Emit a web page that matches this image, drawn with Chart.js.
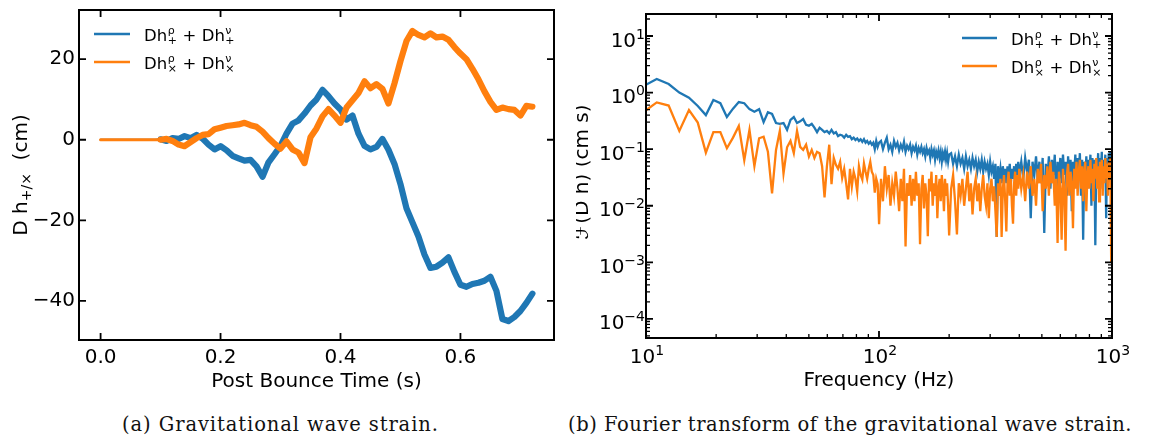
<!DOCTYPE html>
<html><head><meta charset="utf-8">
<script src="https://cdn.jsdelivr.net/npm/chart.js@4/dist/chart.umd.min.js"></script>
<style>
html,body{margin:0;padding:0;background:#fff;}
#wrap{position:relative;width:1156px;height:442px;overflow:hidden;}
canvas{position:absolute;top:0;}
#c1{left:0;width:576px;height:400px;}
#c2{left:576px;width:580px;height:400px;}
.cap{position:absolute;top:415px;font-family:'DejaVu Serif',serif;font-size:19.5px;line-height:20px;color:#111;white-space:nowrap;}
</style></head><body>
<div id="wrap">
<canvas id="c1" width="576" height="400"></canvas>
<canvas id="c2" width="580" height="400"></canvas>
<div class="cap" id="capA" data-l="122" data-w="317">(a) Gravitational wave strain.</div>
<div class="cap" id="capB" data-l="568" data-w="564">(b) Fourier transform of the gravitational wave strain.</div>
</div>
<script>
// ---------- Panel (a): time domain ----------
const timeS = [0.00,0.01,0.02,0.03,0.04,0.05,0.06,0.07,0.08,0.09,
  0.10,0.11,0.12,0.13,0.14,0.15,0.16,0.17,0.18,0.19,
  0.20,0.21,0.22,0.23,0.24,0.25,0.26,0.27,0.28,0.29,
  0.30,0.31,0.32,0.33,0.34,0.35,0.36,0.37,0.38,0.39,
  0.40,0.41,0.42,0.43,0.44,0.45,0.46,0.47,0.48,0.49,
  0.50,0.51,0.52,0.53,0.54,0.55,0.56,0.57,0.58,0.59,
  0.60,0.61,0.62,0.63,0.64,0.65,0.66,0.67,0.68,0.69,
  0.70,0.71,0.72];
const strainPlus = [0,0,0,0,0,0,0,0,0,0,
  0.1,-0.3,0.4,0.2,0.9,0.4,1.2,0.3,-1.2,-2.4,
  -1.6,-2.6,-4.0,-4.6,-5.2,-5.0,-6.6,-9.2,-5.6,-3.6,
  -1.5,1.5,4.0,4.8,6.5,8.5,10.0,12.4,10.8,9.0,
  7.5,5.0,6.0,1.5,-1.5,-2.4,-1.8,0.2,-2.5,-6.0,
  -11.0,-17.0,-20.5,-24.0,-28.5,-31.8,-31.5,-30.5,-29.2,-32.8,
  -36.0,-36.5,-35.8,-35.5,-35.0,-34.0,-37.5,-44.5,-45.0,-44.0,
  -42.5,-40.5,-38.2];
const strainCross = [0,0,0,0,0,0,0,0,0,0,
  0,0.2,-0.3,-1.2,-1.6,-0.6,0.4,1.2,1.4,2.6,
  3.0,3.4,3.6,3.8,4.2,3.6,3.2,2.0,0.4,-1.0,
  -2.2,-0.4,-2.4,-3.2,-5.8,0.6,2.8,5.8,7.6,6.0,
  4.2,8.0,9.8,11.6,14.5,12.8,13.8,12.6,9.0,14.0,
  19.5,24.5,27.0,26.0,25.4,26.4,25.4,25.6,24.8,23.0,
  21.4,20.0,17.6,15.0,12.0,9.4,7.4,8.0,7.6,7.4,
  6.0,8.4,8.2];
const quietEnd = 11;   // samples before the signal grows (t <= 0.10 s), drawn as a thin line
const leftXTicks = [0, 0.2, 0.4, 0.6];
const leftYTicks = [-40, -20, 0, 20];

// ---------- Panel (b): Fourier transform ----------
const freqHz = [9.73,11.12,12.51,13.9,15.29,16.68,18.07,19.46,20.85,22.24,
  23.63,25.02,26.41,27.8,29.19,30.58,31.97,33.36,34.75,36.14,
  37.53,38.92,40.31,41.7,43.09,44.48,45.87,47.26,48.65,50.04,
  51.43,52.82,54.21,55.6,56.99,58.38,59.77,61.16,62.55,63.94,
  65.33,66.72,68.11,69.5,70.89,72.28,73.67,75.06,76.45,77.84,
  79.23,80.62,82.01,83.4,84.79,86.18,87.57,88.96,90.35,91.74,
  93.13,94.52,95.91,97.3,98.69,100.08,
  102,104,106,108,110,112,114,116,118,120,
  122,124,126,128,130,132,134,136,138,140,
  142,144,146,148,150,152,154,156,158,160,
  162,164,166,168,170,172,174,176,178,180,
  182,184,186,188,190,192,194,196,198,200,
  204,208,212,216,220,224,228,232,236,240,
  244,248,252,256,260,264,268,272,276,280,
  284,288,292,296,300,304,308,312,316,320,
  324,328,332,336,340,344,348,352,356,360,
  364,368,372,376,380,384,388,392,396,400,
  408,416,424,432,440,448,456,464,472,480,
  488,496,504,512,520,528,536,544,552,560,
  568,576,584,592,600,608,616,624,632,640,
  648,656,664,672,680,688,696,704,712,720,
  728,736,744,752,760,768,776,784,792,800,
  808,816,824,832,840,848,856,864,872,880,
  888,896,904,912,920,928,936,944,952,960,
  968,976,984,992,1000];
const ftPlus = [1.3,1.74,1.42,1.0,0.81,0.58,0.40,0.74,0.65,0.37,
  0.52,0.68,0.65,0.51,0.46,0.51,0.30,0.45,0.42,0.29,
  0.28,0.29,0.22,0.33,0.37,0.29,0.31,0.34,0.27,0.26,
  0.28,0.24,0.20,0.24,0.22,0.20,0.21,0.19,0.22,0.19,
  0.20,0.17,0.18,0.175,0.16,0.18,0.165,0.17,0.15,0.16,
  0.145,0.155,0.14,0.15,0.135,0.15,0.13,0.14,0.125,0.135,
  0.12,0.13,0.10,0.14,0.11,0.13,
  0.14,0.10,0.13,0.16,0.10,0.12,0.09,0.14,0.11,0.13,
  0.095,0.12,0.10,0.135,0.09,0.115,0.10,0.12,0.085,0.11,
  0.095,0.115,0.08,0.105,0.09,0.11,0.085,0.10,0.075,0.105,
  0.085,0.095,0.07,0.10,0.08,0.095,0.065,0.09,0.075,0.095,
  0.07,0.09,0.06,0.085,0.07,0.09,0.065,0.085,0.06,0.08,
  0.085,0.055,0.075,0.05,0.08,0.055,0.07,0.045,0.075,0.05,
  0.065,0.045,0.07,0.05,0.065,0.04,0.06,0.045,0.065,0.04,
  0.06,0.045,0.055,0.035,0.06,0.04,0.05,0.03,0.055,0.0028,
  0.05,0.03,0.045,0.025,0.05,0.03,0.045,0.025,0.05,0.03,
  0.055,0.025,0.045,0.03,0.05,0.025,0.055,0.03,0.06,0.035,
  0.06,0.03,0.07,0.04,0.065,0.006,0.06,0.035,0.075,0.03,
  0.06,0.025,0.07,0.0033,0.055,0.03,0.075,0.02,0.065,0.035,
  0.08,0.012,0.06,0.03,0.07,0.025,0.08,0.035,0.06,0.015,
  0.075,0.03,0.065,0.008,0.06,0.035,0.08,0.025,0.07,0.04,
  0.085,0.015,0.065,0.0025,0.06,0.03,0.075,0.02,0.065,0.04,
  0.08,0.01,0.07,0.03,0.065,0.002,0.06,0.035,0.085,0.025,
  0.07,0.04,0.09,0.02,0.065,0.035,0.08,0.006,0.07,0.03,
  0.085,0.04,0.09,0.025,0.06];
const ftCross = [0.45,0.67,0.59,0.21,0.49,0.295,0.087,0.20,0.20,0.104,
  0.16,0.257,0.064,0.22,0.050,0.156,0.166,0.090,0.0166,0.097,
  0.21,0.037,0.108,0.14,0.085,0.21,0.11,0.097,0.12,0.074,
  0.097,0.07,0.09,0.085,0.05,0.014,0.05,0.12,0.024,0.07,
  0.053,0.045,0.06,0.031,0.045,0.025,0.013,0.045,0.022,0.04,
  0.03,0.018,0.05,0.035,0.029,0.056,0.04,0.03,0.045,0.06,
  0.04,0.035,0.017,0.03,0.024,0.0047,
  0.03,0.012,0.05,0.02,0.035,0.01,0.025,0.015,0.04,0.02,
  0.008,0.03,0.012,0.045,0.0019,0.025,0.015,0.035,0.01,0.03,
  0.012,0.04,0.015,0.025,0.0021,0.02,0.035,0.009,0.025,0.015,
  0.0029,0.03,0.018,0.04,0.01,0.025,0.015,0.035,0.006,0.02,
  0.03,0.012,0.035,0.02,0.008,0.03,0.015,0.025,0.01,0.003,
  0.02,0.035,0.012,0.0031,0.025,0.015,0.03,0.01,0.02,0.04,
  0.012,0.025,0.007,0.02,0.03,0.012,0.025,0.008,0.02,0.035,
  0.015,0.01,0.025,0.006,0.02,0.03,0.012,0.022,0.008,0.0028,
  0.025,0.015,0.03,0.0028,0.02,0.035,0.012,0.0035,0.025,0.04,
  0.015,0.03,0.01,0.0048,0.025,0.04,0.015,0.035,0.02,0.045,
  0.02,0.035,0.012,0.04,0.02,0.05,0.015,0.03,0.01,0.045,
  0.025,0.055,0.008,0.035,0.02,0.05,0.015,0.06,0.025,0.04,
  0.01,0.03,0.0022,0.04,0.02,0.0025,0.045,0.02,0.0016,0.035,
  0.055,0.015,0.04,0.025,0.004,0.045,0.02,0.06,0.015,0.04,
  0.065,0.02,0.05,0.012,0.04,0.06,0.008,0.035,0.05,0.02,
  0.065,0.025,0.045,0.012,0.055,0.03,0.07,0.02,0.05,0.012,
  0.06,0.03,0.065,0.015,0.05,0.025,0.07,0.03,0.055,0.015,
  0.06,0.035,0.07,0.001,0.05];
const rightXMajor = [10, 100, 1000];
const rightXExp = ['1', '2', '3'];
const rightXMinor = [20,30,40,50,60,70,80,90,200,300,400,500,600,700,800,900];
const rightYMajor = [1e-4, 1e-3, 1e-2, 1e-1, 1, 10];
const rightYExp = ['\u22124', '\u22123', '\u22122', '\u22121', '0', '1'];
const rightYMinor = [5e-5,6e-5,7e-5,8e-5,9e-5,2e-4,3e-4,4e-4,5e-4,6e-4,7e-4,8e-4,9e-4,
  2e-3,3e-3,4e-3,5e-3,6e-3,7e-3,8e-3,9e-3,0.02,0.03,0.04,0.05,0.06,0.07,0.08,0.09,
  0.2,0.3,0.4,0.5,0.6,0.7,0.8,0.9,2,3,4,5,6,7,8,9,20];

const BLUE = '#1f77b4', ORANGE = '#ff7f0e';
const FONT = '"DejaVu Sans", sans-serif';

// frame + inward ticks on four sides
function frameTicks(xMaj, xMin, yMaj, yMin) {
  return {
    id: 'frameTicks',
    afterDraw(chart) {
      const {ctx, chartArea: a} = chart;
      const xs = chart.scales.x, ys = chart.scales.y;
      ctx.save();
      ctx.strokeStyle = '#000';
      ctx.lineCap = 'butt';
      const tx = (vals, len, w) => {
        ctx.lineWidth = w; ctx.beginPath();
        for (const v of vals) {
          const p = xs.getPixelForValue(v);
          if (p < a.left - 0.5 || p > a.right + 0.5) continue;
          ctx.moveTo(p, a.bottom); ctx.lineTo(p, a.bottom - len);
          ctx.moveTo(p, a.top); ctx.lineTo(p, a.top + len);
        }
        ctx.stroke();
      };
      const ty = (vals, len, w) => {
        ctx.lineWidth = w; ctx.beginPath();
        for (const v of vals) {
          const p = ys.getPixelForValue(v);
          if (p < a.top - 0.5 || p > a.bottom + 0.5) continue;
          ctx.moveTo(a.left, p); ctx.lineTo(a.left + len, p);
          ctx.moveTo(a.right, p); ctx.lineTo(a.right - len, p);
        }
        ctx.stroke();
      };
      tx(xMaj, 7, 1.8); tx(xMin, 4, 1.3);
      ty(yMaj, 7, 1.8); ty(yMin, 4, 1.3);
      ctx.lineWidth = 2;
      ctx.strokeRect(a.left, a.top, a.right - a.left, a.bottom - a.top);
      ctx.restore();
    }
  };
}

// legend entry: Dh^{rho}_{sub} + Dh^{nu}_{sub}
function drawLegendEntry(ctx, x0, y, color, sub, lineX0, lineX1) {
  ctx.save();
  ctx.strokeStyle = color; ctx.lineWidth = 2.5; ctx.lineCap = 'butt';
  ctx.beginPath(); ctx.moveTo(lineX0, y); ctx.lineTo(lineX1, y); ctx.stroke();
  ctx.fillStyle = '#000'; ctx.textBaseline = 'alphabetic'; ctx.textAlign = 'left';
  const big = '16.5px ' + FONT, small = '11px ' + FONT;
  const by = y + 6.5;
  let x = x0;
  const stacked = (sup) => {
    ctx.font = small;
    ctx.fillText(sup, x + 0.5, by - 7);
    ctx.fillText(sub, x + 0.5, by + 3);
    x += Math.max(ctx.measureText(sup).width, ctx.measureText(sub).width) + 1;
  };
  ctx.font = big; ctx.fillText('Dh', x, by); x += ctx.measureText('Dh').width;
  stacked('\u03c1');
  ctx.font = big; ctx.fillText(' + Dh', x, by); x += ctx.measureText(' + Dh').width;
  stacked('\u03bd');
  ctx.restore();
}

const leftDecor = {
  id: 'leftDecor',
  afterDraw(chart) {
    const {ctx, chartArea: a} = chart;
    ctx.save();
    ctx.fillStyle = '#000';
    ctx.font = '20px ' + FONT; ctx.textAlign = 'center'; ctx.textBaseline = 'alphabetic';
    ctx.fillText('Post Bounce Time (s)', (a.left + a.right) / 2, a.bottom + 47);
    ctx.translate(a.left - 52.5, (a.top + a.bottom) / 2);
    ctx.rotate(-Math.PI / 2);
    ctx.textAlign = 'left';
    const f1 = '20px ' + FONT, f2 = '14px ' + FONT;
    ctx.font = f1; const w1 = ctx.measureText('D h').width, w3 = ctx.measureText('  (cm)').width;
    ctx.font = f2; const w2 = ctx.measureText('+/\u00d7').width;
    let x = -(w1 + w2 + w3) / 2;
    ctx.font = f1; ctx.fillText('D h', x, 0); x += w1;
    ctx.font = f2; ctx.fillText('+/\u00d7', x, 4); x += w2;
    ctx.font = f1; ctx.fillText('  (cm)', x, 0);
    ctx.restore();
    drawLegendEntry(ctx, a.left + 65, a.top + 24, BLUE, '+', a.left + 15, a.left + 51);
    drawLegendEntry(ctx, a.left + 65, a.top + 52, ORANGE, '\u00d7', a.left + 15, a.left + 51);
  }
};

// "10" with a raised exponent, as a tick label
function powLabel(ctx, exp, x, baseline, align) {
  const fb = '20px ' + FONT, fe = '14px ' + FONT;
  ctx.font = fb; const wb = ctx.measureText('10').width;
  ctx.font = fe; const we = ctx.measureText(exp).width;
  let x0 = align === 'right' ? x - wb - we : x - (wb + we) / 2;
  ctx.textAlign = 'left'; ctx.textBaseline = 'alphabetic';
  ctx.font = fb; ctx.fillText('10', x0, baseline);
  ctx.font = fe; ctx.fillText(exp, x0 + wb, baseline - 8);
}

const rightDecor = {
  id: 'rightDecor',
  afterDraw(chart) {
    const {ctx, chartArea: a} = chart;
    const xs = chart.scales.x, ys = chart.scales.y;
    ctx.save();
    ctx.fillStyle = '#000';
    rightXMajor.forEach((v, i) => powLabel(ctx, rightXExp[i], xs.getPixelForValue(v) + 1, a.bottom + 24.5, 'center'));
    rightYMajor.forEach((v, i) => powLabel(ctx, rightYExp[i], a.left - 1, ys.getPixelForValue(v) + 10.5, 'right'));
    ctx.font = '20px ' + FONT; ctx.textAlign = 'center'; ctx.textBaseline = 'alphabetic';
    ctx.fillText('Frequency (Hz)', (a.left + a.right) / 2, a.bottom + 48);
    ctx.translate(a.left - 58, (a.top + a.bottom) / 2 - 4);
    ctx.rotate(-Math.PI / 2);
    ctx.fillText('\u2131(D h) (cm s)', 0, 0);
    ctx.restore();
    drawLegendEntry(ctx, a.right - 101, a.top + 24, BLUE, '+', a.right - 150, a.right - 115);
    drawLegendEntry(ctx, a.right - 101, a.top + 52, ORANGE, '\u00d7', a.right - 150, a.right - 115);
  }
};

const tickFont = {family: FONT, size: 20};
function fixW(w) { return s => { s.width = w; s.paddingTop = s.paddingBottom = 0; }; }
function fixH(h) { return s => { s.height = h; s.paddingLeft = s.paddingRight = 0; }; }

function pts(xs, ys, from, to) {
  const out = [];
  for (let i = from; i < to; i++) out.push({x: xs[i], y: ys[i]});
  return out;
}
const lineDs = (label, data, color, width) => ({
  label, data, borderColor: color, backgroundColor: color, borderWidth: width,
  pointRadius: 0, borderJoinStyle: 'round', borderCapStyle: 'round', clip: 0
});

// first dataset in the array is drawn on top (orange over blue, as in the figure)
new Chart(document.getElementById('c1'), {
  type: 'line',
  data: {
    datasets: [
      lineDs('Dh\u03c1\u00d7 + Dh\u03bd\u00d7', pts(timeS, strainCross, quietEnd - 1, timeS.length), ORANGE, 6.2),
      lineDs('Dh\u03c1\u00d7 + Dh\u03bd\u00d7 (quiet)', pts(timeS, strainCross, 0, quietEnd), ORANGE, 3),
      lineDs('Dh\u03c1+ + Dh\u03bd+', pts(timeS, strainPlus, quietEnd - 1, timeS.length), BLUE, 6.2),
      lineDs('Dh\u03c1+ + Dh\u03bd+ (quiet)', pts(timeS, strainPlus, 0, quietEnd), BLUE, 2)
    ]
  },
  options: {
    responsive: false, animation: false, devicePixelRatio: 1,
    layout: {padding: {left: 0, right: 22, top: 10, bottom: 0}},
    plugins: {legend: {display: false}, tooltip: {enabled: false}},
    scales: {
      x: {type: 'linear', min: -0.036, max: 0.756,
        afterBuildTicks: s => { s.ticks = leftXTicks.map(v => ({value: v})); },
        afterFit: fixH(60),
        grid: {display: false, drawTicks: false}, border: {display: false},
        ticks: {autoSkip: false, maxRotation: 0, padding: 6, color: '#000', font: tickFont,
          callback: v => Number(v).toFixed(1)}},
      y: {type: 'linear', min: -49.7, max: 32.2,
        afterBuildTicks: s => { s.ticks = leftYTicks.map(v => ({value: v})); },
        afterFit: fixW(79),
        grid: {display: false, drawTicks: false}, border: {display: false},
        ticks: {autoSkip: false, padding: 4, color: '#000', font: tickFont,
          callback: v => (v < 0 ? '\u2212' + Math.abs(v) : String(v))}}
    }
  },
  plugins: [frameTicks(leftXTicks, [], leftYTicks, []), leftDecor]
});

new Chart(document.getElementById('c2'), {
  type: 'line',
  data: {
    datasets: [
      {label: 'Dh\u03c1\u00d7 + Dh\u03bd\u00d7', data: pts(freqHz, ftCross, 0, freqHz.length),
       borderColor: ORANGE, backgroundColor: ORANGE, borderWidth: 2.3, pointRadius: 0, clip: 0},
      {label: 'Dh\u03c1+ + Dh\u03bd+', data: pts(freqHz, ftPlus, 0, freqHz.length),
       borderColor: BLUE, backgroundColor: BLUE, borderWidth: 2.3, pointRadius: 0, clip: 0}
    ]
  },
  options: {
    responsive: false, animation: false, devicePixelRatio: 1,
    layout: {padding: {left: 0, right: 44, top: 14, bottom: 0}},
    plugins: {legend: {display: false}, tooltip: {enabled: false}},
    scales: {
      x: {type: 'logarithmic', min: 10, max: 1000,
        afterBuildTicks: s => { s.ticks = rightXMajor.map(v => ({value: v})); },
        afterFit: fixH(62),
        grid: {display: false, drawTicks: false}, border: {display: false},
        ticks: {display: false}},
      y: {type: 'logarithmic', min: 4.6e-5, max: 24.5,
        afterBuildTicks: s => { s.ticks = rightYMajor.map(v => ({value: v})); },
        afterFit: fixW(70),
        grid: {display: false, drawTicks: false}, border: {display: false},
        ticks: {display: false}}
    }
  },
  plugins: [frameTicks(rightXMajor, rightXMinor, rightYMajor, rightYMinor), rightDecor]
});

// fit captions to the reference width
for (const id of ['capA', 'capB']) {
  const el = document.getElementById(id);
  const target = +el.dataset.w, n = el.textContent.length;
  const w = el.getBoundingClientRect().width;
  el.style.letterSpacing = ((target - w) / n).toFixed(2) + 'px';
  el.style.left = el.dataset.l + 'px';
}
</script>
</body></html>
